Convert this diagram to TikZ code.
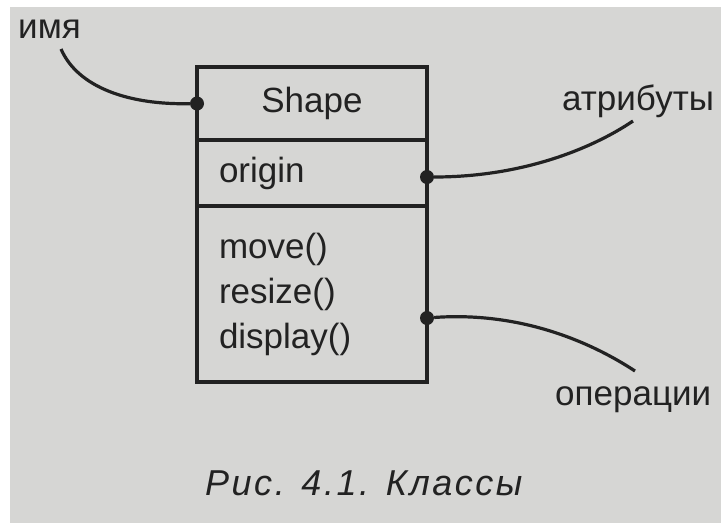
\documentclass[tikz,border=0pt]{standalone}
\usepackage{fontspec}
\setmainfont{Liberation Sans}
\usetikzlibrary{positioning}
\definecolor{paper}{RGB}{214,214,212}
\definecolor{ink}{RGB}{34,34,34}
\tikzset{
    classpart/.style={draw=ink, line width=3.2pt, outer sep=0pt, minimum width=230pt,
        inner xsep=22pt, inner ysep=0pt, text=ink, font=\fontsize{35}{45}\selectfont},
    noteline/.style={draw=ink, line width=3.2pt},
    notedot/.style={circle, fill=ink, inner sep=0pt, minimum size=14pt},
    notetext/.style={text=ink, inner sep=0pt, font=\fontsize{35}{42}\selectfont}
}

\begin{document}
\begin{tikzpicture}[x=1pt, y=-1pt, node distance=0pt]
\useasboundingbox (0,0) rectangle (721,523);
\fill[white] (0,0) rectangle (721,523);
\fill[paper] (10,7) rectangle (721,523);
% class
\node[classpart, minimum height=73pt] (name) at (312,103.5) {Shape};
\node[classpart, minimum height=66pt, text width=186pt, align=left, below=of name] (attrs) {origin};
\node[classpart, minimum height=176pt, text width=186pt, align=left, below=of attrs] (ops) {move()\\resize()\\display()};
\node[notedot] (namedot) at (name.west) {};
\node[notedot] (attrdot) at ([yshift=-4pt]attrs.east) {};
\node[notedot] (opsdot) at ([yshift=-24pt]ops.east) {};
% notes
\node[notetext, anchor=base west] (namelbl) at (18,38) {имя};
\node[notetext, anchor=base west] (attrlbl) at (562,110) {атрибуты};
\node[notetext, anchor=base west] (opslbl) at (555,405) {операции};
\coordinate (nametip) at (61,49);
\coordinate (attrtip) at (633,121);
\coordinate (opstip) at (635,371);
\draw[noteline] (nametip) .. controls (78,88) and (130,105) .. (namedot);
\draw[noteline] (attrdot) .. controls (520,177) and (590,150) .. (attrtip);
\draw[noteline] (opsdot) .. controls (510,312) and (580,335) .. (opstip);
% caption
\node[notetext, anchor=base west, font=\fontsize{36}{42}\selectfont\itshape\addfontfeature{LetterSpace=7}] (caption) at (205,495) {Рис. 4.1. Классы};
\end{tikzpicture}
\end{document}
